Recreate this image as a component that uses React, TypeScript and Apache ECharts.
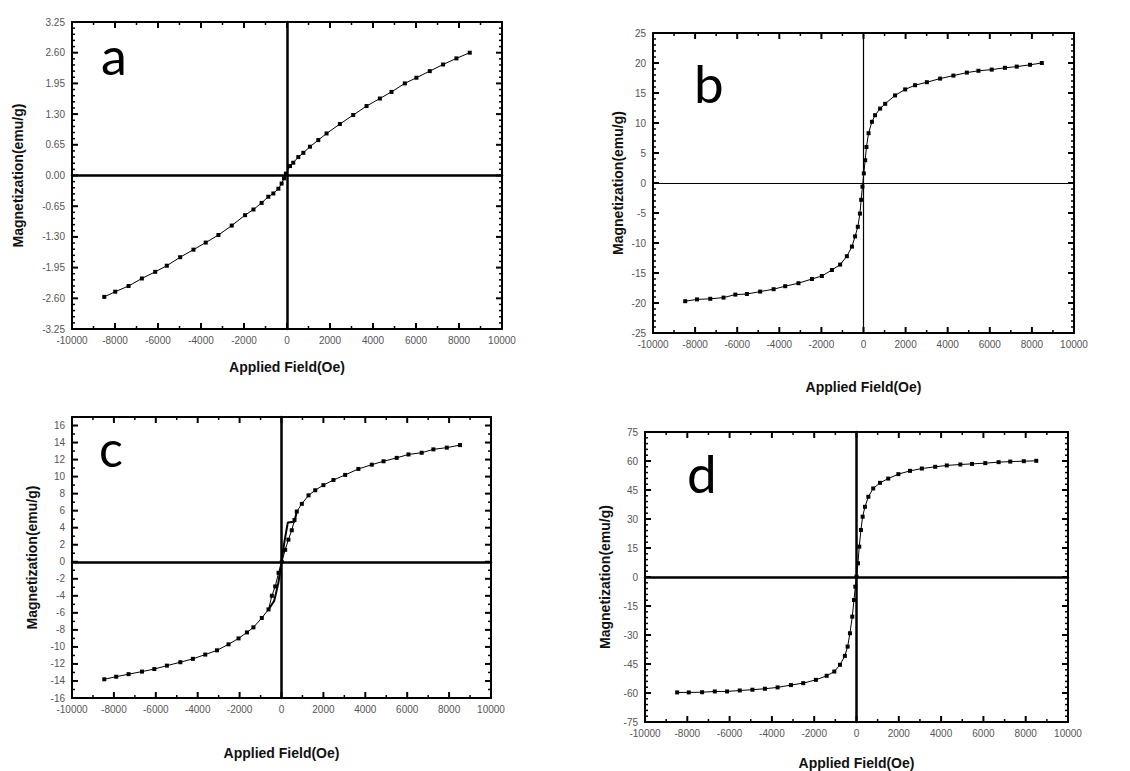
import React, { useEffect, useRef } from "react";
import * as echarts from "echarts";

// ---------------- data ----------------
const fieldMin = -10000;
const fieldMax = 10000;
const fieldStep = 2000;

const aField = [-8500, -7990, -7370, -6750, -6130, -5590, -4970, -4350, -3780, -3190, -2570, -1950, -1560, -1180, -870, -635, -400, -250, -140, -50, 140, 290, 525, 760, 1070, 1455, 1840, 2460, 3080, 3700, 4320, 4860, 5480, 6020, 6640, 7260, 7880, 8500];
const aMag = [-2.57, -2.46, -2.34, -2.18, -2.04, -1.91, -1.73, -1.57, -1.42, -1.26, -1.06, -0.84, -0.72, -0.58, -0.45, -0.38, -0.28, -0.17, -0.06, 0.04, 0.2, 0.27, 0.39, 0.48, 0.61, 0.75, 0.89, 1.09, 1.28, 1.47, 1.63, 1.77, 1.95, 2.07, 2.21, 2.35, 2.48, 2.6];

const bField = [-8470, -7910, -7280, -6650, -6090, -5540, -4910, -4270, -3720, -3090, -2450, -1980, -1500, -1110, -790, -550, -400, -270, -170, -110, -50, 15, 80, 140, 240, 400, 550, 790, 1030, 1500, 1980, 2450, 3010, 3640, 4270, 4910, 5460, 6090, 6720, 7280, 7910, 8470];
const bMag = [-19.7, -19.4, -19.3, -19.1, -18.6, -18.5, -18.1, -17.7, -17.2, -16.7, -16.0, -15.5, -14.5, -13.6, -12.2, -10.6, -8.9, -7.3, -5.1, -2.8, -0.6, 1.6, 3.8, 6.0, 8.3, 10.2, 11.3, 12.4, 13.2, 14.6, 15.6, 16.3, 16.8, 17.4, 17.9, 18.4, 18.7, 18.9, 19.2, 19.4, 19.7, 20.0];

const cField = [-8460, -7890, -7300, -6660, -6070, -5470, -4830, -4230, -3640, -3080, -2530, -2050, -1650, -1340, -940, -620, -460, -300, -140, 15, 175, 330, 490, 620, 730, 970, 1290, 1610, 2000, 2480, 3040, 3670, 4310, 4870, 5500, 6060, 6690, 7250, 7890, 8520];
const cMag = [-13.8, -13.5, -13.2, -12.9, -12.6, -12.2, -11.8, -11.4, -10.9, -10.4, -9.7, -9.0, -8.3, -7.7, -6.6, -5.6, -4.0, -2.9, -1.3, 0, 1.4, 2.6, 3.7, 4.9, 5.9, 6.8, 7.8, 8.4, 9.0, 9.6, 10.2, 10.9, 11.4, 11.8, 12.2, 12.6, 12.8, 13.2, 13.4, 13.7];
// steeper solid branch near the origin in panel c
const cBranchField = [-620, -350, -150, 0, 150, 300, 620, 730];
const cBranchMag = [-5.6, -4.6, -2.5, 0, 2.5, 4.6, 4.7, 5.9];

const dField = [-8480, -7930, -7300, -6700, -6120, -5520, -4920, -4330, -3730, -3100, -2520, -1920, -1410, -1050, -780, -550, -420, -310, -200, -120, -55, 0, 70, 130, 210, 290, 400, 560, 790, 1110, 1500, 1980, 2530, 3090, 3720, 4270, 4910, 5460, 6090, 6720, 7270, 7910, 8500];
const dMag = [-59.7, -59.7, -59.6, -59.2, -59.2, -58.7, -58.3, -57.8, -57.1, -55.9, -54.9, -53.2, -51.1, -48.9, -45.4, -40.8, -36.0, -29.1, -20.5, -11.9, -5.0, 0.2, 7.1, 15.7, 24.3, 31.2, 36.3, 41.5, 45.8, 48.7, 50.9, 53.2, 54.9, 56.1, 57.0, 57.7, 58.2, 58.5, 58.9, 59.4, 59.7, 59.9, 60.1];

const xTitle = "Applied Field(Oe)";
const yTitle = "Magnetization(emu/g)";

// ---------------- layout ----------------
type Panel = {
  letter: string;
  box: { left: number; top: number; width: number; height: number };
  yMin: number; yMax: number; yInterval: number; yMinor: number; yDecimals: number;
  zeroWidth: number;
  series: { x: number[]; y: number[]; symbols: boolean; width: number }[];
  letterPos: [number, number, number];
  xNameGap: number;
  yNameGap: number;
};

const panels: Panel[] = [
  {
    letter: "a",
    box: { left: 72, top: 22, width: 430, height: 307 },
    yMin: -3.25, yMax: 3.25, yInterval: 0.65, yMinor: 5, yDecimals: 2,
    zeroWidth: 2.5,
    series: [{ x: aField, y: aMag, symbols: true, width: 1 }],
    letterPos: [101, 29, 52],
    xNameGap: 31,
    yNameGap: 47,
  },
  {
    letter: "b",
    box: { left: 653, top: 33, width: 421, height: 300 },
    yMin: -25, yMax: 25, yInterval: 5, yMinor: 5, yDecimals: 0,
    zeroWidth: 1.2,
    series: [{ x: bField, y: bMag, symbols: true, width: 1 }],
    letterPos: [694, 56, 53],
    xNameGap: 47,
    yNameGap: 28,
  },
  {
    letter: "c",
    box: { left: 72, top: 417, width: 419, height: 281 },
    yMin: -16, yMax: 17, yInterval: 2, yMinor: 2, yDecimals: 0,
    zeroWidth: 2.5,
    series: [
      { x: cField, y: cMag, symbols: true, width: 1 },
      { x: cBranchField, y: cBranchMag, symbols: false, width: 2 },
    ],
    letterPos: [99, 423, 50],
    xNameGap: 48,
    yNameGap: 33,
  },
  {
    letter: "d",
    box: { left: 645, top: 432, width: 423, height: 290 },
    yMin: -75, yMax: 75, yInterval: 15, yMinor: 5, yDecimals: 0,
    zeroWidth: 2.5,
    series: [{ x: dField, y: dMag, symbols: true, width: 1 }],
    letterPos: [687, 446, 53],
    xNameGap: 34,
    yNameGap: 33,
  },
];

const FONT = "'Liberation Sans', Arial, sans-serif";
const nameStyle = { fontSize: 14, fontWeight: "bold", fontFamily: FONT, color: "#111" };

// tick positions derived from the axis settings: [kind (0 = x, 1 = y), value, major (1/0)]
function tickItems(p: Panel) {
  const items: number[][] = [];
  const xMinorStep = fieldStep / 2;
  const nx = Math.round((fieldMax - fieldMin) / xMinorStep);
  for (let k = 1; k < nx; k++) {
    items.push([0, fieldMin + k * xMinorStep, k % 2 === 0 ? 1 : 0]);
  }
  const yMinorStep = p.yInterval / p.yMinor;
  const ny = Math.floor((p.yMax - p.yMin) / yMinorStep + 1e-6);
  for (let k = 1; k <= ny; k++) {
    const v = p.yMin + k * yMinorStep;
    if (v >= p.yMax - 1e-9) continue;
    items.push([1, v, k % p.yMinor === 0 ? 1 : 0]);
  }
  return items;
}

function buildOption() {
  const grid: any[] = [];
  const xAxis: any[] = [];
  const yAxis: any[] = [];
  const series: any[] = [];
  const title: any[] = [];

  panels.forEach((p, i) => {
    grid.push({ ...p.box, show: false });
    const xi = xAxis.length;
    const yi = yAxis.length;
    ["bottom", "top"].forEach((pos) => {
      xAxis.push({
        gridIndex: i,
        type: "value",
        position: pos,
        min: fieldMin,
        max: fieldMax,
        interval: fieldStep,
        name: pos === "bottom" ? xTitle : "",
        nameLocation: "middle",
        nameGap: p.xNameGap,
        nameTextStyle: nameStyle,
        axisLine: { show: true, onZero: false, lineStyle: { color: "#000", width: 2 } },
        axisTick: { show: false },
        minorTick: { show: false },
        splitLine: { show: false },
        axisLabel: {
          show: pos === "bottom",
          fontSize: 10,
          color: "#555",
          fontFamily: FONT,
          margin: 6,
          formatter: (v: number) => String(v),
        },
      });
    });
    const maxOnTick = Math.abs(p.yMax / p.yInterval - Math.round(p.yMax / p.yInterval)) < 1e-6;
    ["left", "right"].forEach((pos) => {
      yAxis.push({
        gridIndex: i,
        type: "value",
        position: pos,
        min: p.yMin,
        max: p.yMax,
        interval: p.yInterval,
        name: pos === "left" ? yTitle : "",
        nameLocation: "middle",
        nameGap: p.yNameGap,
        nameTextStyle: nameStyle,
        axisLine: { show: true, onZero: false, lineStyle: { color: "#000", width: 2 } },
        axisTick: { show: false },
        minorTick: { show: false },
        splitLine: { show: false },
        axisLabel: {
          show: pos === "left",
          fontSize: 10,
          color: "#555",
          fontFamily: FONT,
          margin: 7,
          showMaxLabel: maxOnTick,
          formatter: (v: number) => v.toFixed(p.yDecimals),
        },
      });
    });

    // inward ticks on all four sides, positioned through the axis scales
    series.push({
      type: "custom",
      xAxisIndex: xi,
      yAxisIndex: yi,
      silent: true,
      clip: false,
      z: 4,
      data: tickItems(p),
      renderItem: (params: any, api: any) => {
        const cs = params.coordSys;
        const kind = api.value(0);
        const v = api.value(1);
        const major = api.value(2) === 1;
        const len = major ? 6 : 3;
        const style = { stroke: "#000", lineWidth: major ? 2 : 1.5 };
        if (kind === 0) {
          const px = api.coord([v, p.yMin])[0];
          const yb = cs.y + cs.height;
          const yt = cs.y;
          return {
            type: "group",
            children: [
              { type: "line", shape: { x1: px, y1: yb, x2: px, y2: yb - len }, style },
              { type: "line", shape: { x1: px, y1: yt, x2: px, y2: yt + len }, style },
            ],
          };
        }
        const py = api.coord([fieldMin, v])[1];
        const xl = cs.x;
        const xr = cs.x + cs.width;
        return {
          type: "group",
          children: [
            { type: "line", shape: { x1: xl, y1: py, x2: xl + len, y2: py }, style },
            { type: "line", shape: { x1: xr, y1: py, x2: xr - len, y2: py }, style },
          ],
        };
      },
    });

    p.series.forEach((s) => {
      series.push({
        type: "line",
        xAxisIndex: xi,
        yAxisIndex: yi,
        data: s.x.map((x, j) => [x, s.y[j]]),
        showSymbol: s.symbols,
        symbol: "rect",
        symbolSize: 4,
        lineStyle: { color: "#000", width: s.width },
        itemStyle: { color: "#000" },
        z: 5,
      });
    });
    title.push({
      text: p.letter,
      left: p.letterPos[0],
      top: p.letterPos[1],
      padding: 0,
      textStyle: {
        fontSize: p.letterPos[2],
        fontWeight: "normal",
        fontFamily: "Lato, 'Open Sans', sans-serif",
        color: "#000",
      },
    });
  });

  // overlay grids whose axis lines sit on zero: the cross-hair lines
  panels.forEach((p, i) => {
    grid.push({ ...p.box, show: false });
    const lineStyle = { color: "#000", width: p.zeroWidth };
    xAxis.push({
      gridIndex: panels.length + i,
      type: "value",
      min: fieldMin,
      max: fieldMax,
      axisLine: { show: true, onZero: true, lineStyle: { ...lineStyle } },
      axisTick: { show: false },
      axisLabel: { show: false },
      splitLine: { show: false },
    });
    yAxis.push({
      gridIndex: panels.length + i,
      type: "value",
      min: p.yMin,
      max: p.yMax,
      axisLine: { show: true, onZero: true, lineStyle: { ...lineStyle } },
      axisTick: { show: false },
      axisLabel: { show: false },
      splitLine: { show: false },
    });
  });

  return { animation: false, title, grid, xAxis, yAxis, series };
}

export default function App() {
  const ref = useRef<HTMLDivElement>(null);
  useEffect(() => {
    if (!ref.current) return;
    const chart = echarts.init(ref.current, undefined, { renderer: "svg" });
    chart.setOption(buildOption() as any);
    return () => chart.dispose();
  }, []);
  return (
    <div
      ref={ref}
      style={{ position: "fixed", left: 0, top: 0, width: 1130, height: 771, background: "#fff" }}
    />
  );
}
